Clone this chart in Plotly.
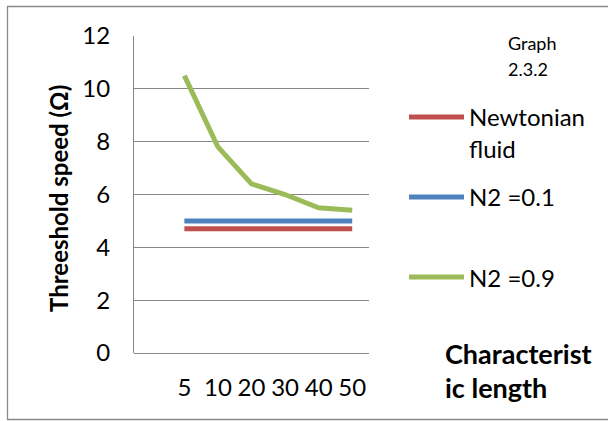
import plotly.graph_objects as go

categories = ["5", "10", "20", "30", "40", "50"]
newtonian = [4.7, 4.7, 4.7, 4.7, 4.7, 4.7]
n2_01 = [5.0, 5.0, 5.0, 5.0, 5.0, 5.0]
n2_09 = [10.5, 7.8, 6.4, 6.0, 5.5, 5.4]
series_names = ["Newtonian fluid", "N2 =0.1", "N2 =0.9"]
colors = ["#C0504D", "#4F81BD", "#9BBB59"]

W, H = 608, 421
L, R, T, B = 134, 369, 36, 353  # plot area px


def xp(px):
    return (px - L) / (R - L)


def yp(py):
    return (B - py) / (B - T)


FONT = "Lato"
GRID = "#878787"

fig = go.Figure()
for name, vals, c in zip(series_names, [newtonian, n2_01, n2_09], colors):
    fig.add_trace(go.Scatter(x=categories, y=vals, mode="lines", name=name,
                             line=dict(color=c, width=5), showlegend=False))

shapes = []
annotations = []
# outer border
shapes.append(dict(type="rect", xref="paper", yref="paper",
                   x0=xp(7.5), x1=xp(660), y0=yp(419.5), y1=yp(6.5),
                   line=dict(color="#8a8a8a", width=1.3), layer="below"))
# manual legend
leg_y = [117, 197, 277]
for c, y in zip(colors, leg_y):
    shapes.append(dict(type="line", xref="paper", yref="paper",
                       x0=xp(409), x1=xp(464), y0=yp(y), y1=yp(y),
                       line=dict(color=c, width=5)))
leg_texts = [("Newtonian", 117), ("fluid", 148), ("N2 =0.1", 197), ("N2 =0.9", 277)]
for t, y in leg_texts:
    annotations.append(dict(text=t, x=xp(467), y=yp(y), xref="paper", yref="paper",
                            xanchor="left", yanchor="middle", showarrow=False,
                            font=dict(family=FONT, size=24, color="#000")))
for t, y in [("Graph", 43), ("2.3.2", 69)]:
    annotations.append(dict(text=t, x=xp(506), y=yp(y), xref="paper", yref="paper",
                            xanchor="left", yanchor="middle", showarrow=False,
                            font=dict(family=FONT, size=18, color="#000")))
for t, y in [("Characterist", 353), ("ic length", 387)]:
    annotations.append(dict(text="<b>%s</b>" % t, x=xp(443), y=yp(y), xref="paper", yref="paper",
                            xanchor="left", yanchor="middle", showarrow=False,
                            font=dict(family=FONT, size=27, color="#000")))
annotations.append(dict(text="<b>Threeshold speed (Ω)</b>", x=xp(58), y=yp(199),
                        xref="paper", yref="paper", xanchor="center", yanchor="middle",
                        textangle=-90, showarrow=False,
                        font=dict(family=FONT, size=24, color="#000")))

fig.update_layout(
    width=W, height=H,
    margin=dict(l=L, r=W - R, t=T, b=H - B, pad=0),
    paper_bgcolor="white", plot_bgcolor="white",
    font=dict(family=FONT, color="#000"),
    shapes=shapes, annotations=annotations,
    xaxis=dict(type="category", categoryorder="array", categoryarray=categories,
               range=[-1.5, 5.5], showgrid=False, zeroline=False,
               showline=False, ticks="", tickfont=dict(size=24, family=FONT, color="#000"),
               ticklabelstandoff=18, fixedrange=True),
    yaxis=dict(range=[0, 12], dtick=2, tick0=0, showgrid=True, gridcolor=GRID, gridwidth=1,
               zeroline=True, zerolinecolor=GRID, zerolinewidth=1,
               showline=True, linecolor=GRID, linewidth=1, ticks="",
               tickfont=dict(size=24, family=FONT, color="#000"),
               ticklabelstandoff=18, fixedrange=True),
)

fig.write_html("out.html")
